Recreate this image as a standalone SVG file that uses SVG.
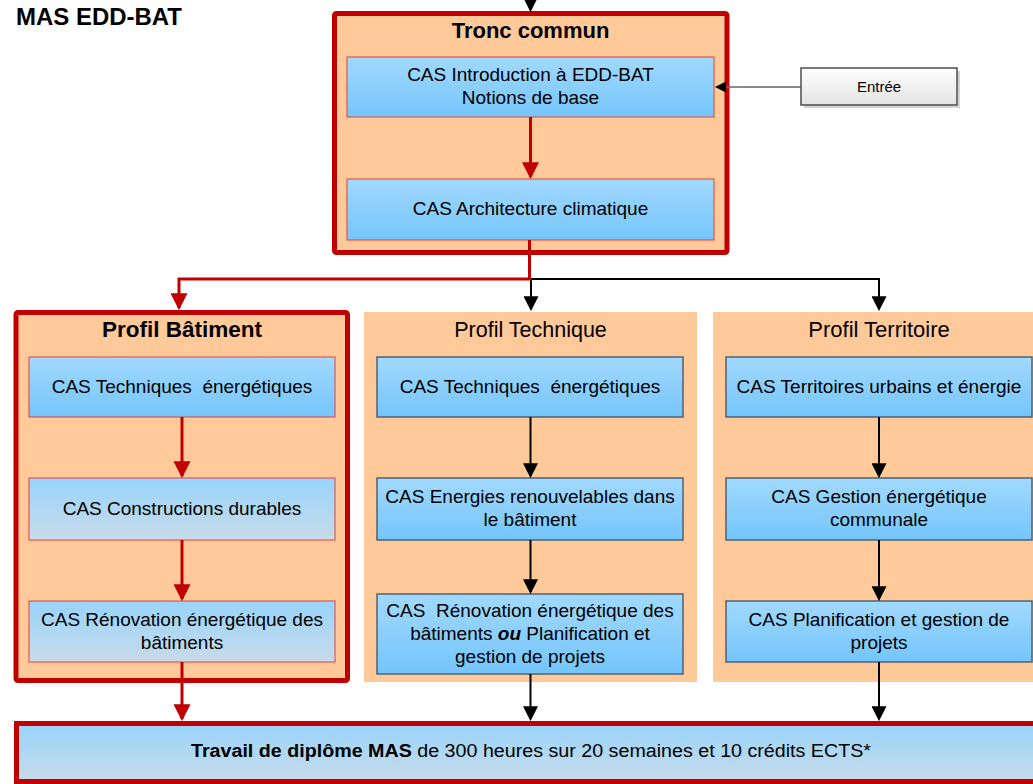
<svg xmlns="http://www.w3.org/2000/svg" width="1033" height="784" viewBox="0 0 1033 784">
<defs>
<linearGradient id="blueA" x1="0" y1="0" x2="0" y2="1"><stop offset="0" stop-color="#A2D9FE"/><stop offset="1" stop-color="#74C5FB"/></linearGradient>
<linearGradient id="blueB" x1="0" y1="0" x2="0" y2="1"><stop offset="0" stop-color="#98D4FB"/><stop offset="1" stop-color="#C8DBEA"/></linearGradient>
<linearGradient id="grey" x1="0" y1="0" x2="0" y2="1"><stop offset="0" stop-color="#FFFFFF"/><stop offset="1" stop-color="#E4E4E4"/></linearGradient>
<marker id="ar" markerUnits="userSpaceOnUse" markerWidth="17" markerHeight="17" viewBox="0 0 16 16" refX="14" refY="8" orient="auto"><path d="M0,0 L16,8 L0,16 z" fill="#C00000"/></marker>
<marker id="ab" markerUnits="userSpaceOnUse" markerWidth="15" markerHeight="15" viewBox="0 0 14 14" refX="12" refY="7" orient="auto"><path d="M0,0 L14,7 L0,14 z" fill="#000"/></marker>
<marker id="as" markerUnits="userSpaceOnUse" markerWidth="11" markerHeight="11" viewBox="0 0 10 10" refX="9" refY="5" orient="auto"><path d="M0,0 L10,5 L0,10 z" fill="#000"/></marker>
</defs>
<style>
text{font-family:"Liberation Sans",Arial,sans-serif;fill:#000;}
.t{font-size:19px;text-anchor:middle;}
.h{font-size:22px;font-weight:bold;text-anchor:middle;}
.hr{font-size:21.5px;text-anchor:middle;}
.frame{fill:#FFC999;stroke:#C00000;stroke-width:5;}
.panel{fill:#FFC999;}
.boxr{fill:url(#blueA);stroke:#E0403F;stroke-width:1;}
.boxrb{fill:url(#blueB);stroke:#E0403F;stroke-width:1;}
.boxg{fill:url(#blueA);stroke:#4F6272;stroke-width:1.5;}
.red{fill:none;stroke:#C00000;stroke-width:3;}
.blk{fill:none;stroke:#000;stroke-width:2;}
</style>

<text x="16" y="25" style="font-size:23px;font-weight:bold" textLength="166" lengthAdjust="spacingAndGlyphs">MAS EDD-BAT</text>

<g id="tronc-commun">
<rect class="frame" x="334.5" y="13.5" width="392.5" height="239" rx="2"/>
<text class="h" x="530.5" y="38">Tronc commun</text>
</g>
<g id="cas-introduction">
<rect class="boxr" x="347" y="57" width="367" height="60"/>
<text class="t" x="530.5" y="81">CAS Introduction à EDD-BAT</text>
<text class="t" x="530.5" y="104">Notions de base</text>
</g>
<g id="cas-architecture">
<rect class="boxr" x="347" y="179" width="367" height="61"/>
<text class="t" x="530.5" y="215">CAS Architecture climatique</text>
</g>
<g id="entree">
<rect x="804" y="71" width="156" height="37" fill="#D4D4D4"/>
<rect x="801" y="68" width="156" height="37" fill="url(#grey)" stroke="#4D4D4D" stroke-width="1.5"/>
<text x="879" y="92" style="font-size:15px;text-anchor:middle">Entrée</text>
</g>

<g id="profil-batiment">
<rect class="frame" x="16" y="312.5" width="331.5" height="368" rx="2"/>
<text class="h" x="182" y="337" style="font-size:22.5px">Profil Bâtiment</text>
</g>
<g id="bat-techniques">
<rect class="boxr" x="29" y="357" width="306" height="60"/>
<text class="t" x="182" y="393" xml:space="preserve">CAS Techniques  énergétiques</text>
</g>
<g id="bat-constructions">
<rect class="boxrb" x="29" y="478" width="306" height="62"/>
<text class="t" x="182" y="515">CAS Constructions durables</text>
</g>
<g id="bat-renovation">
<rect class="boxrb" x="29" y="601" width="306" height="61"/>
<text class="t" x="182" y="626">CAS Rénovation énergétique des</text>
<text class="t" x="182" y="649">bâtiments</text>
</g>

<g id="profil-technique">
<rect class="panel" x="364" y="312" width="333" height="370"/>
<text class="hr" x="530.5" y="337">Profil Technique</text>
</g>
<g id="tech-techniques">
<rect class="boxg" x="377" y="357" width="306" height="60"/>
<text class="t" x="530" y="393" xml:space="preserve">CAS Techniques  énergétiques</text>
</g>
<g id="tech-energies">
<rect class="boxg" x="377" y="478" width="306" height="62"/>
<text class="t" x="530" y="503">CAS Energies renouvelables dans</text>
<text class="t" x="530" y="526">le bâtiment</text>
</g>
<g id="tech-renovation">
<rect class="boxg" x="377" y="594" width="306" height="80"/>
<text class="t" x="530" y="617" xml:space="preserve">CAS  Rénovation énergétique des</text>
<text class="t" x="530" y="640">bâtiments <tspan style="font-weight:bold;font-style:italic">ou</tspan> Planification et</text>
<text class="t" x="530" y="663">gestion de projets</text>
</g>

<g id="profil-territoire">
<rect class="panel" x="713" y="312" width="330" height="370"/>
<text class="hr" x="879" y="337" style="font-size:22px">Profil Territoire</text>
</g>
<g id="terr-territoires">
<rect class="boxg" x="726" y="357" width="306" height="60"/>
<text class="t" x="879" y="393">CAS Territoires urbains et énergie</text>
</g>
<g id="terr-gestion">
<rect class="boxg" x="726" y="478" width="306" height="62"/>
<text class="t" x="879" y="503">CAS Gestion énergétique</text>
<text class="t" x="879" y="526">communale</text>
</g>
<g id="terr-planification">
<rect class="boxg" x="726" y="601" width="306" height="61"/>
<text class="t" x="879" y="626">CAS Planification et gestion de</text>
<text class="t" x="879" y="649">projets</text>
</g>

<g id="travail-diplome">
<rect x="16.5" y="723.5" width="1030" height="58" fill="url(#blueB)" stroke="#C00000" stroke-width="5"/>
<text x="531" y="757" style="font-size:18px;text-anchor:middle" textLength="680" lengthAdjust="spacingAndGlyphs"><tspan style="font-weight:bold">Travail de diplôme MAS</tspan> de 300 heures sur 20 semaines et 10 crédits ECTS*</text>
</g>

<g id="connectors">
<line class="blk" x1="530.5" y1="-5" x2="530.5" y2="10" marker-end="url(#ab)"/>
<line class="red" x1="530.5" y1="117" x2="530.5" y2="177" marker-end="url(#ar)"/>
<line x1="801" y1="87" x2="716" y2="87" stroke="#666" stroke-width="1.5" marker-end="url(#as)"/>
<path class="blk" d="M530,279 H879 V309" marker-end="url(#ab)"/>
<line class="blk" x1="531" y1="279" x2="531" y2="309" marker-end="url(#ab)"/>
<path class="red" d="M529.5,240 V279 H179 V308" marker-end="url(#ar)"/>
<line class="red" x1="182" y1="417" x2="182" y2="476" marker-end="url(#ar)"/>
<line class="red" x1="182" y1="540" x2="182" y2="599" marker-end="url(#ar)"/>
<line class="red" x1="182" y1="662" x2="182" y2="719" marker-end="url(#ar)"/>
<line class="blk" x1="530.5" y1="417" x2="530.5" y2="476" marker-end="url(#ab)"/>
<line class="blk" x1="530.5" y1="540" x2="530.5" y2="592" marker-end="url(#ab)"/>
<line class="blk" x1="530.5" y1="674" x2="530.5" y2="719" marker-end="url(#ab)"/>
<line class="blk" x1="879" y1="417" x2="879" y2="476" marker-end="url(#ab)"/>
<line class="blk" x1="879" y1="540" x2="879" y2="599" marker-end="url(#ab)"/>
<line class="blk" x1="879" y1="662" x2="879" y2="719" marker-end="url(#ab)"/>
</g>
</svg>
